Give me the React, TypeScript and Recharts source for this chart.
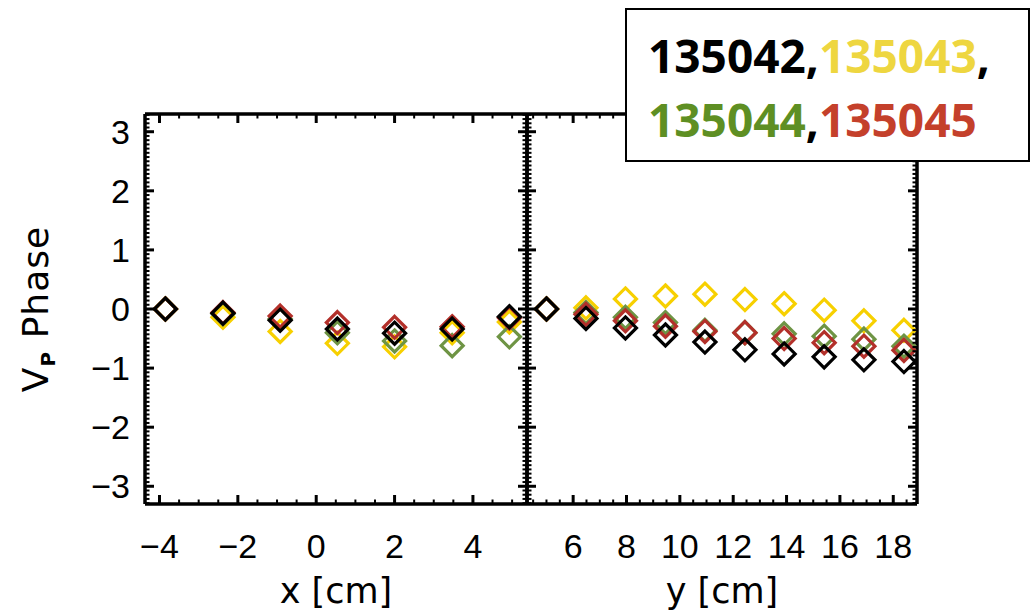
import React from "react";
import { ScatterChart, Scatter, XAxis, YAxis } from "recharts";

// left panel: scan along x [cm]
const xScanPos = [-3.85, -2.38, -0.92, 0.54, 2.0, 3.47, 4.93];
const xScanBlack = [0, -0.07, -0.19, -0.34, -0.41, -0.34, -0.13];
const xScanYellow = [0, -0.14, -0.38, -0.58, -0.64, -0.4, -0.22];
const xScanGreen = [0, -0.08, -0.17, -0.4, -0.54, -0.62, -0.47];
const xScanRed = [0, -0.06, -0.12, -0.23, -0.31, -0.3, -0.15];

// right panel: scan along y [cm]
const yScanPos = [5.0, 6.48, 7.96, 9.46, 10.94, 12.44, 13.91, 15.41, 16.9, 18.4];
const yScanBlack = [0, -0.16, -0.32, -0.44, -0.56, -0.69, -0.76, -0.81, -0.86, -0.89];
const yScanYellow = [0, 0.02, 0.17, 0.22, 0.25, 0.16, 0.09, -0.02, -0.2, -0.36];
const yScanGreen = [0, -0.06, -0.14, -0.23, -0.36, -0.4, -0.42, -0.46, -0.51, -0.63];
const yScanRed = [0, -0.09, -0.2, -0.29, -0.38, -0.4, -0.5, -0.57, -0.63, -0.7];

const shotNames = ["135042", "135043", "135044", "135045"];

const xMajorTicks = [-4, -2, 0, 2, 4];
const yMajorTicks = [6, 8, 10, 12, 14, 16, 18];
const phaseMajorTicks = [-3, -2, -1, 0, 1, 2, 3];

// minor tick positions (axis decoration only)
const xTicksAll = Array.from({ length: 19 }, (_, i) => -4 + i * 0.5);
const yTicksAll = Array.from({ length: 29 }, (_, i) => 4.5 + i * 0.5);
const phaseTicksAll = Array.from({ length: 93 }, (_, i) => (i - 46) / 14);

const MARKER = {
  black: "#000000",
  yellow: "#F7D000",
  green: "#6E9444",
  red: "#B3302A",
};
const TEXT = {
  yellow: "#EED640",
  green: "#5E8F23",
  red: "#C4402B",
};

const X_DOMAIN = [-4.37, 5.38];
const Y_DOMAIN = [4.27, 18.89];
const PHASE_DOMAIN = [-3.3, 3.3];

const tickFont = "'Liberation Sans', Arial, sans-serif";
const titleFont = "'DejaVu Sans', sans-serif";

const toPoints = (xs: number[], vs: number[]) => xs.map((x, i) => ({ x, y: vs[i] }));

const fmt = (v: number) => (v < 0 ? `\u2212${Math.abs(v)}` : `${v}`);

type Side = "bottom" | "top" | "left" | "right";

function makeTick(side: Side, majors: number[], withLabels: boolean) {
  return (props: any) => {
    const { x, y, payload } = props;
    const v = payload.value as number;
    const isMajor = majors.some((m) => Math.abs(m - v) < 1e-6);
    const len = isMajor ? 9 : 4.5;
    let x2 = x;
    let y2 = y;
    if (side === "bottom") y2 = y - len;
    if (side === "top") y2 = y + len;
    if (side === "left") x2 = x + len;
    if (side === "right") x2 = x - len;
    return (
      <g>
        <line x1={x} y1={y} x2={x2} y2={y2} stroke="#000" strokeWidth={isMajor ? 3 : 2} />
        {withLabels && isMajor && side === "bottom" && (
          <text x={x} y={y + 54} textAnchor="middle" fontSize={34} fontFamily={tickFont} fill="#000">
            {fmt(v)}
          </text>
        )}
        {withLabels && isMajor && side === "left" && (
          <text x={x - 15} y={y + 12} textAnchor="end" fontSize={34} fontFamily={tickFont} fill="#000">
            {fmt(v)}
          </text>
        )}
      </g>
    );
  };
}

const Diamond = (props: any) => {
  const { cx, cy, color } = props;
  const r = 11;
  return (
    <polygon
      points={`${cx},${cy - r} ${cx + r},${cy} ${cx},${cy + r} ${cx - r},${cy}`}
      fill="none"
      stroke={color}
      strokeWidth={3.2}
    />
  );
};

const axisLine = { stroke: "#000", strokeWidth: 3.5 };

const PhaseLabel = (props: any) => {
  const vb = props.viewBox;
  const cx = vb.x + 48;
  const cy = vb.y + vb.height / 2;
  return (
    <text
      x={cx}
      y={cy}
      transform={`rotate(-90 ${cx} ${cy})`}
      textAnchor="middle"
      fontSize={36}
      fontFamily={titleFont}
      letterSpacing={1}
      fill="#000"
    >
      V
      <tspan fontSize={20} fontWeight={700} dy={7}>
        P
      </tspan>
      <tspan dy={-7}> Phase</tspan>
    </text>
  );
};

function series(xs: number[], cols: number[][]) {
  const colors = [MARKER.yellow, MARKER.green, MARKER.red, MARKER.black];
  return cols.map((vs, i) => (
    <Scatter
      key={i}
      data={toPoints(xs, vs)}
      isAnimationActive={false}
      shape={(p: any) => <Diamond {...p} color={colors[i]} />}
    />
  ));
}

// shared axis setup for one panel
function panelAxes(domain: number[], allTicks: number[], majors: number[], label: string, leftLabels: boolean) {
  const common = {
    type: "number" as const,
    allowDataOverflow: true,
    interval: 0 as const,
    tickSize: 0,
    tickMargin: 0,
    tickLine: false,
    axisLine,
  };
  return [
    <XAxis
      key="xb"
      {...common}
      dataKey="x"
      domain={domain}
      ticks={allTicks}
      height={111}
      tick={makeTick("bottom", majors, true)}
      label={{ value: label, position: "insideBottom", offset: 12, fontSize: 35, fontFamily: titleFont, fill: "#000" }}
    />,
    <XAxis
      key="xt"
      {...common}
      xAxisId="top"
      orientation="top"
      dataKey="x"
      domain={domain}
      ticks={allTicks}
      height={1}
      tick={makeTick("top", majors, false)}
    />,
    <YAxis
      key="yl"
      {...common}
      dataKey="y"
      domain={PHASE_DOMAIN}
      ticks={phaseTicksAll}
      width={leftLabels ? 145 : 1}
      tick={makeTick("left", phaseMajorTicks, leftLabels)}
      label={leftLabels ? <PhaseLabel /> : undefined}
    />,
    <YAxis
      key="yr"
      {...common}
      yAxisId="right"
      orientation="right"
      dataKey="y"
      domain={PHASE_DOMAIN}
      ticks={phaseTicksAll}
      width={1}
      tick={makeTick("right", phaseMajorTicks, false)}
    />,
  ];
}

export default function App() {
  return (
    <div style={{ position: "absolute", left: 0, top: 0, width: 1034, height: 615, background: "#fff" }}>
      <div style={{ position: "absolute", left: 0, top: 0 }}>
        <ScatterChart width={600} height={615} margin={{ top: 113, right: 72, bottom: 0, left: 0 }}>
          {panelAxes(X_DOMAIN, xTicksAll, xMajorTicks, "x [cm]", true)}
          {series(xScanPos, [xScanYellow, xScanGreen, xScanRed, xScanBlack])}
        </ScatterChart>
      </div>

      <div style={{ position: "absolute", left: 0, top: 0 }}>
        <ScatterChart width={1034} height={615} margin={{ top: 113, right: 116, bottom: 0, left: 526 }}>
          {panelAxes(Y_DOMAIN, yTicksAll, yMajorTicks, "y [cm]", false)}
          {series(yScanPos, [yScanYellow, yScanGreen, yScanRed, yScanBlack])}
        </ScatterChart>
      </div>

      <svg width={1034} height={615} style={{ position: "absolute", left: 0, top: 0, pointerEvents: "none" }}>
        <rect x={626} y={9} width={403} height={152} fill="#fff" stroke="#000" strokeWidth={2} />
        <text x={648} y={73} fontSize={46} fontWeight={700} fontFamily="'Open Sans', sans-serif">
          <tspan fill="#000">{shotNames[0]}</tspan>
          <tspan fill="#000">,</tspan>
          <tspan fill={TEXT.yellow}>{shotNames[1]}</tspan>
          <tspan fill="#000">,</tspan>
        </text>
        <text x={648} y={137} fontSize={46} fontWeight={700} fontFamily="'Open Sans', sans-serif">
          <tspan fill={TEXT.green}>{shotNames[2]}</tspan>
          <tspan fill="#000">,</tspan>
          <tspan fill={TEXT.red}>{shotNames[3]}</tspan>
        </text>
      </svg>
    </div>
  );
}
